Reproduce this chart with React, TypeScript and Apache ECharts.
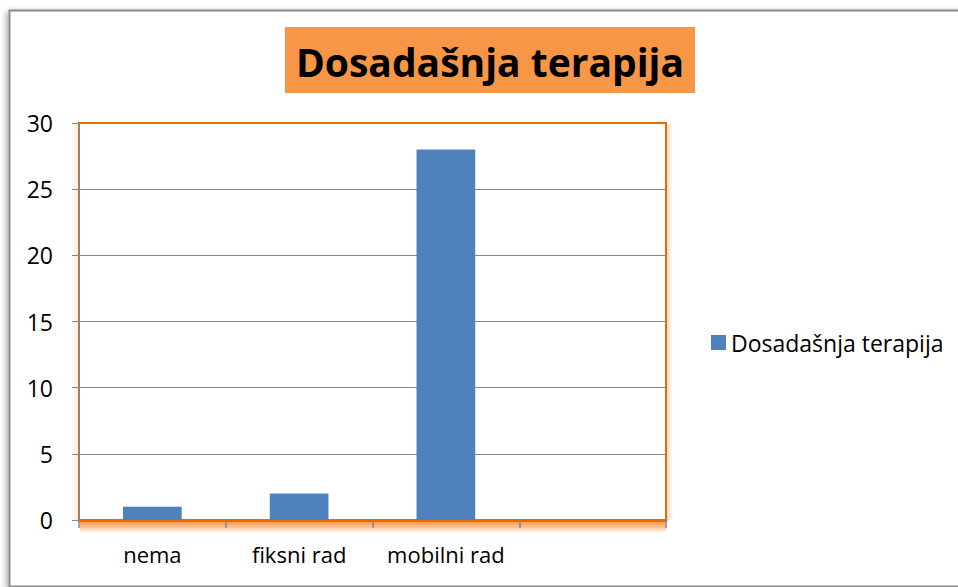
import React, { useEffect, useRef } from "react";
import * as echarts from "echarts";

const categories = ["nema", "fiksni rad", "mobilni rad", ""];
const seriesName = "Dosadašnja terapija";
const values: (number | null)[] = [1, 2, 28, null];
const titleText = "Dosadašnja terapija";

export default function App() {
  const ref = useRef<HTMLDivElement>(null);
  useEffect(() => {
    if (!ref.current) return;
    const chart = echarts.init(ref.current, null, { renderer: "svg" });
    const font = "'Open Sans', 'Noto Sans', sans-serif";
    chart.setOption({
      animation: false,
      backgroundColor: "#ffffff",
      graphic: [
        {
          type: "rect",
          shape: { x: 9.5, y: 10.5, width: 960, height: 576 },
          style: {
            fill: "#ffffff",
            stroke: "#8c8c8c",
            lineWidth: 2,
            shadowColor: "rgba(0,0,0,0.35)",
            shadowBlur: 6,
            shadowOffsetX: -2,
            shadowOffsetY: 2,
          },
          z: -10,
        },
        {
          type: "rect",
          shape: { x: 285, y: 27, width: 410, height: 66 },
          style: { fill: "#F79646" },
          z: 1,
        },
        {
          type: "text",
          x: 490,
          y: 61,
          style: {
            text: titleText,
            fill: "#000000",
            font: `bold 39px ${font}`,
            align: "center",
            verticalAlign: "middle",
          },
          z: 2,
        },
        {
          type: "rect",
          shape: { x: 80, y: 521, width: 586, height: 12 },
          style: {
            fill: new echarts.graphic.LinearGradient(0, 0, 0, 1, [
              { offset: 0, color: "rgba(247,150,70,1)" },
              { offset: 0.5, color: "rgba(247,150,70,0.6)" },
              { offset: 1, color: "rgba(247,150,70,0)" },
            ]),
          },
          z: -1,
        },
        {
          type: "rect",
          shape: { x: 667, y: 124, width: 6, height: 396 },
          style: {
            fill: new echarts.graphic.LinearGradient(0, 0, 1, 0, [
              { offset: 0, color: "rgba(247,150,70,0.35)" },
              { offset: 1, color: "rgba(247,150,70,0)" },
            ]),
          },
          z: -1,
        },
        {
          type: "rect",
          shape: { x: 72, y: 124, width: 6, height: 396 },
          style: {
            fill: new echarts.graphic.LinearGradient(1, 0, 0, 0, [
              { offset: 0, color: "rgba(247,150,70,0.2)" },
              { offset: 1, color: "rgba(247,150,70,0)" },
            ]),
          },
          z: -1,
        },
      ],
      legend: {
        show: true,
        left: 706,
        top: 326,
        orient: "vertical",
        itemWidth: 15,
        itemHeight: 15,
        itemGap: 6,
        icon: "rect",
        textStyle: { fontFamily: font, fontSize: 23, color: "#000" },
        data: [seriesName],
      },
      grid: {
        left: 79,
        top: 123,
        width: 587,
        height: 397,
        show: true,
        borderColor: "#E46C0A",
        borderWidth: 2,
        backgroundColor: "transparent",
      },
      xAxis: {
        type: "category",
        data: categories,
        axisLine: {
          lineStyle: { color: "#E46C0A", width: 3 },
        },
        axisTick: {
          show: true,
          interval: 0,
          length: 8,
          lineStyle: { color: "#868686", width: 1.5 },
        },
        axisLabel: {
          interval: 0,
          hideOverlap: false,
          fontFamily: font,
          fontSize: 22,
          color: "#000",
          margin: 23,
        },
        splitLine: { show: false },
      },
      yAxis: {
        type: "value",
        min: 0,
        max: 30,
        interval: 5,
        axisLine: {
          show: true,
          lineStyle: { color: "#868686", width: 1.5 },
        },
        axisTick: { show: true, length: 7, lineStyle: { color: "#868686" } },
        axisLabel: {
          fontFamily: font,
          fontSize: 23,
          color: "#000",
          margin: 26,
        },
        splitLine: { show: true, lineStyle: { color: "#868686", width: 1.2 } },
      },
      series: [
        {
          name: seriesName,
          type: "bar",
          data: values,
          barWidth: "40%",
          itemStyle: { color: "#4F81BD" },
        },
      ],
    });
    return () => chart.dispose();
  }, []);
  return (
    <div
      ref={ref}
      style={{ position: "fixed", left: 0, top: 0, width: 958, height: 587 }}
    />
  );
}
